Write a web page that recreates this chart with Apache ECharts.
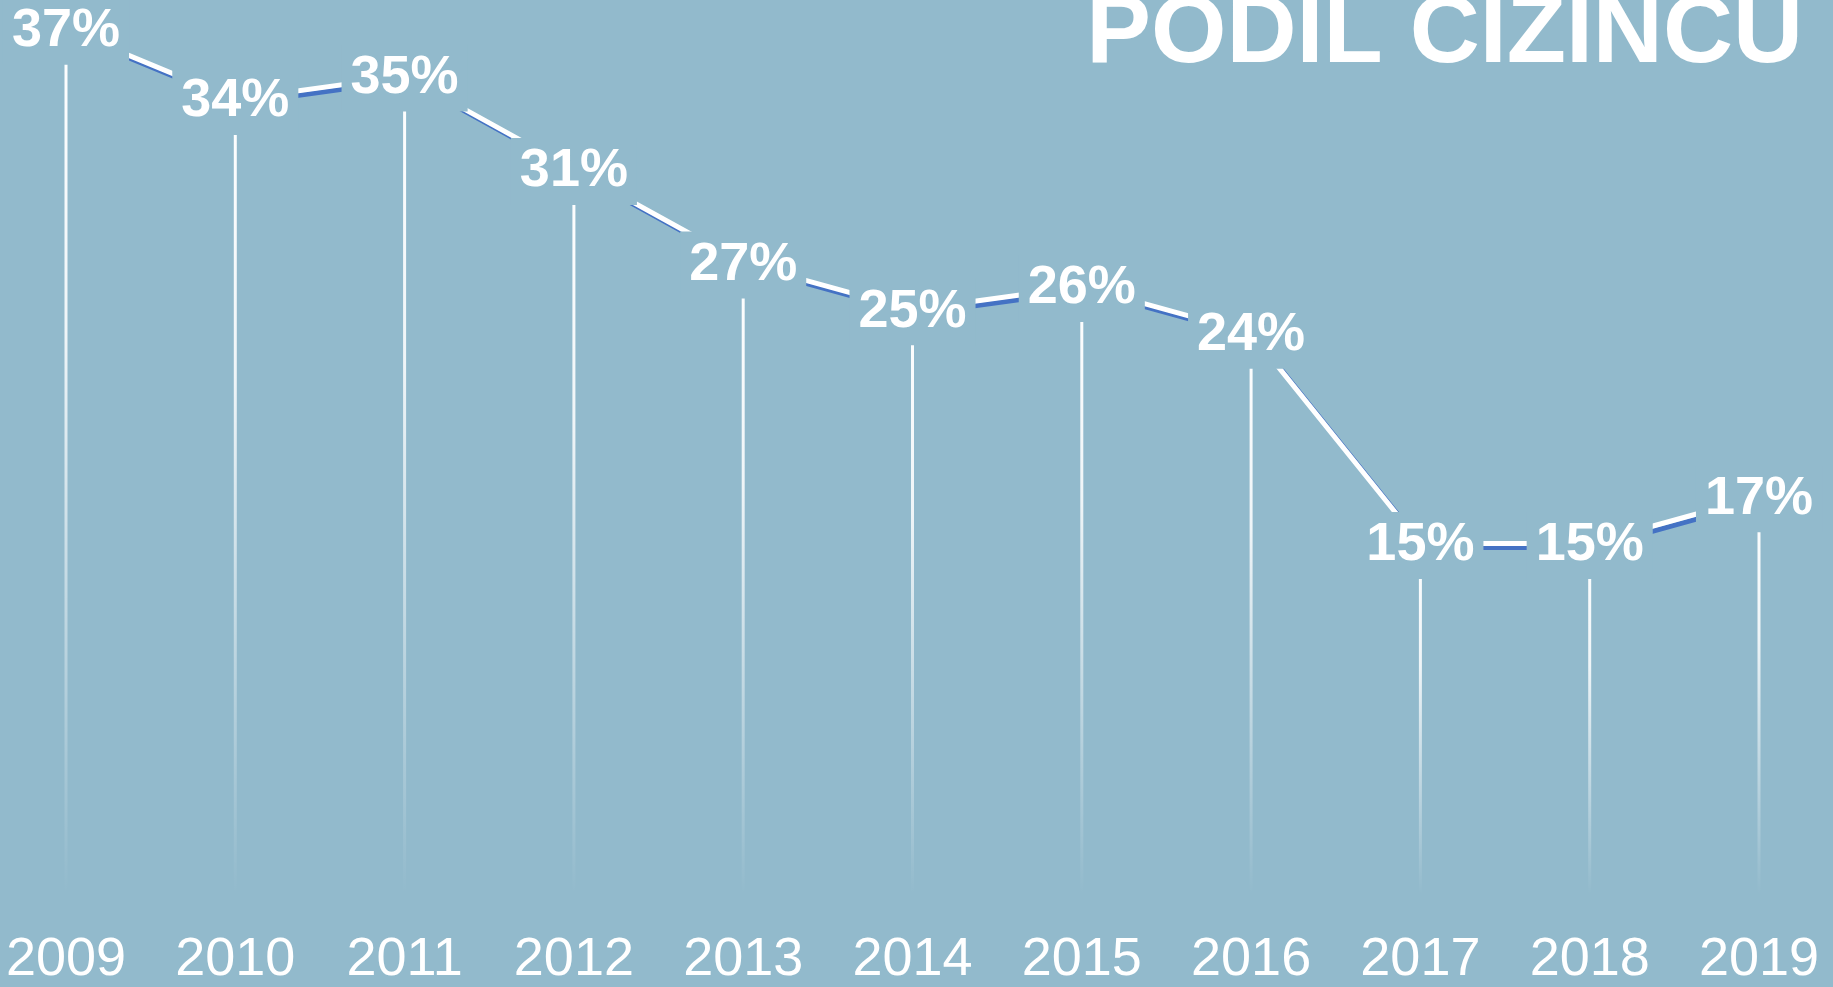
<!DOCTYPE html>
<html>
<head>
<meta charset="utf-8">
<script src="https://cdn.jsdelivr.net/npm/echarts@6/dist/echarts.min.js"></script>
<style>
html,body{margin:0;padding:0;background:#92BACC;}
#main{width:1833px;height:987px;}
</style>
</head>
<body>
<div id="main"></div>
<script>
var years = ['2009','2010','2011','2012','2013','2014','2015','2016','2017','2018','2019'];
var shares = [37, 34, 35, 31, 27, 25, 26, 24, 15, 15, 17];
var titleText = 'PODIL CIZINCU';

var BG = '#92BACC';
var chart = echarts.init(document.getElementById('main'));
chart.setOption({
  animation: false,
  backgroundColor: BG,
  grid: { left: 66, right: 74, top: 6, bottom: 88, containLabel: false },
  xAxis: {
    type: 'category',
    data: years,
    boundaryGap: false,
    axisLine: { show: false },
    axisTick: { show: false },
    splitLine: { show: false },
    axisLabel: {
      color: '#ffffff',
      fontFamily: 'Liberation Sans, Arial, sans-serif',
      fontSize: 54,
      lineHeight: 54,
      margin: 39
    }
  },
  yAxis: {
    type: 'value', min: 0, max: 38, show: false
  },
  graphic: [{
    type: 'text',
    x: 1803,
    y: 35,
    style: {
      text: titleText,
      fill: '#ffffff',
      font: 'bold 97px "Liberation Sans", Arial, sans-serif',
      align: 'right',
      verticalAlign: 'middle',
      textAlign: 'right',
      textVerticalAlign: 'middle'
    }
  }],
  series: [{
    type: 'bar',
    data: shares,
    barWidth: 3,
    z: 1,
    itemStyle: {
      color: {
        type: 'linear', x: 0, y: 0, x2: 0, y2: 1,
        colorStops: [
          { offset: 0, color: 'rgba(255,255,255,1)' },
          { offset: 0.35, color: 'rgba(255,255,255,0.85)' },
          { offset: 1, color: 'rgba(255,255,255,0)' }
        ]
      }
    },
    emphasis: { disabled: true }
  }, {
    type: 'line',
    data: shares,
    z: 3,
    symbol: 'circle',
    symbolSize: 1,
    showSymbol: true,
    itemStyle: { color: 'rgba(0,0,0,0)' },
    lineStyle: {
      color: '#ffffff',
      width: 5,
      shadowColor: '#4472C4',
      shadowBlur: 0,
      shadowOffsetX: 4,
      shadowOffsetY: 4
    },
    label: {
      show: true,
      position: 'inside',
      offset: [0, 2],
      formatter: '{c}%',
      color: '#ffffff',
      fontFamily: 'Liberation Sans, Arial, sans-serif',
      fontWeight: 'bold',
      fontSize: 54,
      lineHeight: 54,
      backgroundColor: BG,
      padding: [13, 9, 0, 9]
    },
    emphasis: { disabled: true }
  }]
});
</script>
</body>
</html>
